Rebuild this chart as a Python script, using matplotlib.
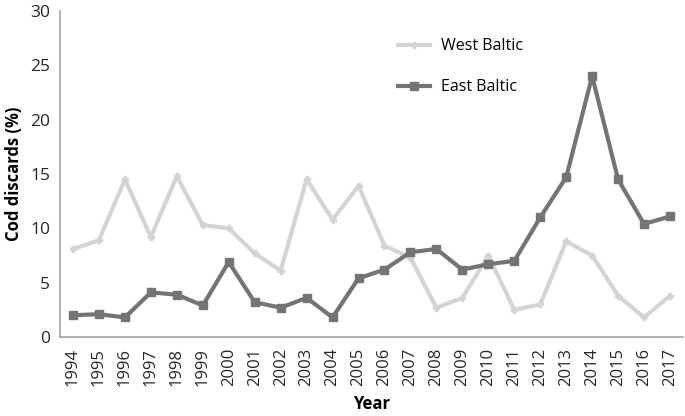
import matplotlib
matplotlib.use("Agg")
import matplotlib.pyplot as plt

plt.rcParams['font.family'] = ['Open Sans', 'DejaVu Sans']

years = [str(y) for y in range(1994, 2018)]
west_baltic = [8.1, 8.9, 14.5, 9.2, 14.8, 10.3, 10.0, 7.7, 6.1, 14.5, 10.8, 13.9,
               8.4, 7.3, 2.7, 3.6, 7.5, 2.5, 3.0, 8.8, 7.5, 3.8, 1.8, 3.8]
east_baltic = [2.0, 2.1, 1.8, 4.1, 3.9, 2.9, 6.9, 3.2, 2.7, 3.6, 1.8, 5.4,
               6.2, 7.8, 8.1, 6.2, 6.7, 7.0, 11.0, 14.7, 24.0, 14.5, 10.4, 11.1]
yticks = [0, 5, 10, 15, 20, 25, 30]

fig = plt.figure(figsize=(6.85, 4.16), dpi=100)
ax = fig.add_axes([60/685, 1-337/416, (683-60)/685, (337-11)/416])

x = list(range(len(years)))
ax.plot(x, west_baltic, color='#d4d4d4', lw=3, marker='P', ms=4,
        label='West Baltic')
ax.plot(x, east_baltic, color='#747474', lw=3, marker='s', ms=5.5,
        label='East Baltic')

ax.set_xlim(-0.5, len(years) - 0.5)
ax.set_ylim(0, 30)
ax.set_yticks(yticks)
ax.set_xticks(x)
ax.set_xticklabels(years, rotation=90, fontsize=12, color='#262626')
ax.tick_params(axis='y', labelsize=12.5, labelcolor='#262626')
ax.tick_params(axis='x', length=0, pad=8)
ax.tick_params(axis='y', length=0, pad=7)
for s in ['top', 'right']:
    ax.spines[s].set_visible(False)
for s in ['left', 'bottom']:
    ax.spines[s].set_color('#a6a6a6')
    ax.spines[s].set_linewidth(1.2)

ax.set_xlabel('Year', fontsize=12, fontweight='bold', labelpad=6)
ax.set_ylabel('Cod discards (%)', fontsize=12, fontweight='bold', labelpad=5)

leg = ax.legend(loc='upper left', bbox_to_anchor=(0.52, 0.96), frameon=False,
                fontsize=11.5, handlelength=2.0, labelspacing=1.55,
                handletextpad=0.7)

fig.savefig('out.png', dpi=100)
